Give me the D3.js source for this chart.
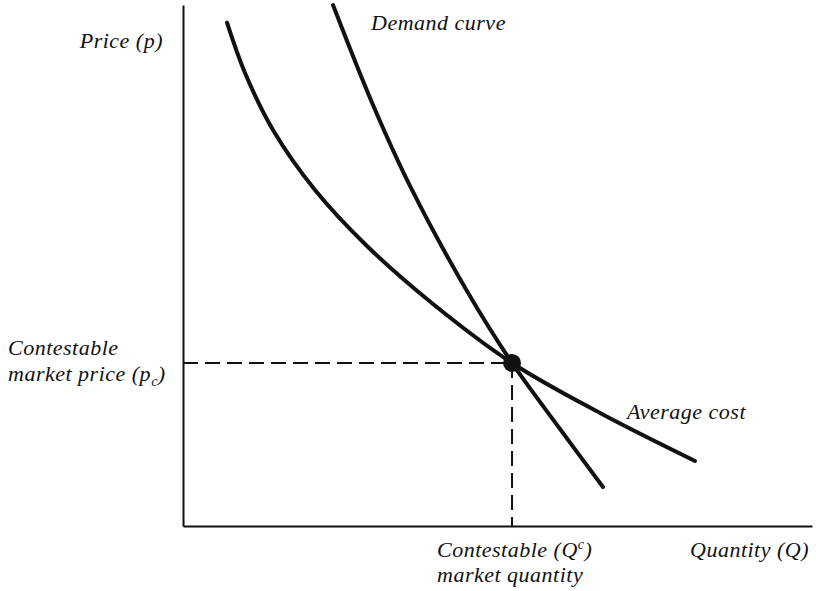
<!DOCTYPE html>
<html>
<head>
<meta charset="utf-8">
<script src="https://cdn.jsdelivr.net/npm/d3@7"></script>
<style>
  body { margin: 0; background: #fff; }
  text { font-family: "Liberation Serif", "Times New Roman", serif; font-style: italic; font-size: 22px; letter-spacing: 0.5px; fill: #111; }
</style>
</head>
<body>
<div id="chart"></div>
<script>
// Quantity / price in arbitrary units (0-100 on both axes)
var acQuantity = [7.00, 9.86, 14.31, 20.99, 29.25, 39.75, 52.31, 66.30, 81.40];
var acPrice    = [96.60, 86.95, 76.01, 64.49, 53.74, 42.61, 31.29, 21.69, 12.48];

var demandQuantity = [23.85, 30.21, 36.25, 45.15, 52.31, 59.94, 66.77];
var demandPrice    = [100.0, 80.81, 64.88, 45.11, 31.29, 18.62, 7.49];

// contestable equilibrium
var eqQuantity = 52.31;
var eqPrice = 31.29;

const chartWidth = 816;
const chartHeight = 591;

const marginTop = 5;
const marginBottom = 65;
const marginLeft = 183;
const marginRight = 4;

var svg = d3.select("#chart")
  .append("svg")
  .attr("width", chartWidth)
  .attr("height", chartHeight);

var xScale = d3.scaleLinear()
  .domain([0, 100])
  .range([marginLeft, chartWidth - marginRight]);

var yScale = d3.scaleLinear()
  .domain([0, 100])
  .range([chartHeight - marginBottom, marginTop]);

// axes: just the bare lines, no ticks
var xAxis = d3.axisBottom(xScale).ticks(0).tickSize(0).tickSizeOuter(0);
var yAxis = d3.axisLeft(yScale).ticks(0).tickSize(0).tickSizeOuter(0);

svg.append("g")
  .attr("transform", "translate(0," + yScale(0) + ")")
  .call(xAxis)
  .select(".domain").attr("stroke", "#111").attr("stroke-width", 2);

svg.append("g")
  .attr("transform", "translate(" + xScale(0) + ",0)")
  .call(yAxis)
  .select(".domain").attr("stroke", "#111").attr("stroke-width", 2);

// dashed guides to the equilibrium
svg.append("line")
  .attr("x1", xScale(0)).attr("x2", xScale(eqQuantity))
  .attr("y1", yScale(eqPrice)).attr("y2", yScale(eqPrice))
  .attr("stroke", "#111").attr("stroke-width", 2)
  .attr("stroke-dasharray", "15,7");

svg.append("line")
  .attr("x1", xScale(eqQuantity)).attr("x2", xScale(eqQuantity))
  .attr("y1", yScale(eqPrice)).attr("y2", yScale(0))
  .attr("stroke", "#111").attr("stroke-width", 2)
  .attr("stroke-dasharray", "15,7");

var line = d3.line()
  .x(function(d) { return xScale(d[0]); })
  .y(function(d) { return yScale(d[1]); })
  .curve(d3.curveCatmullRom.alpha(0.5));

var acData = d3.zip(acQuantity, acPrice);
var demandData = d3.zip(demandQuantity, demandPrice);

svg.append("path")
  .datum(acData)
  .attr("d", line)
  .attr("fill", "none")
  .attr("stroke", "#111")
  .attr("stroke-width", 4)
  .attr("stroke-linecap", "round");

svg.append("path")
  .datum(demandData)
  .attr("d", line)
  .attr("fill", "none")
  .attr("stroke", "#111")
  .attr("stroke-width", 4)
  .attr("stroke-linecap", "round");

svg.append("circle")
  .attr("cx", xScale(eqQuantity))
  .attr("cy", yScale(eqPrice))
  .attr("r", 9)
  .attr("fill", "#111");

// labels
svg.append("text").attr("x", 163).attr("y", 48)
  .style("text-anchor", "end").text("Price (p)");

svg.append("text").attr("x", 371).attr("y", 30).text("Demand curve");

svg.append("text").attr("x", 627).attr("y", 419).text("Average cost");

svg.append("text").attr("x", 8).attr("y", 355).text("Contestable");

var pc = svg.append("text").attr("x", 8).attr("y", 381);
pc.append("tspan").text("market price (p");
pc.append("tspan").attr("dy", 5).style("font-size", "14px").text("c");
pc.append("tspan").attr("dy", -5).text(")");

var qc = svg.append("text").attr("x", 437).attr("y", 557);
qc.append("tspan").text("Contestable (Q");
qc.append("tspan").attr("dy", -8).style("font-size", "14px").text("c");
qc.append("tspan").attr("dy", 8).text(")");

svg.append("text").attr("x", 437).attr("y", 582).text("market quantity");

svg.append("text").attr("x", 690).attr("y", 557).text("Quantity (Q)");
</script>
</body>
</html>
